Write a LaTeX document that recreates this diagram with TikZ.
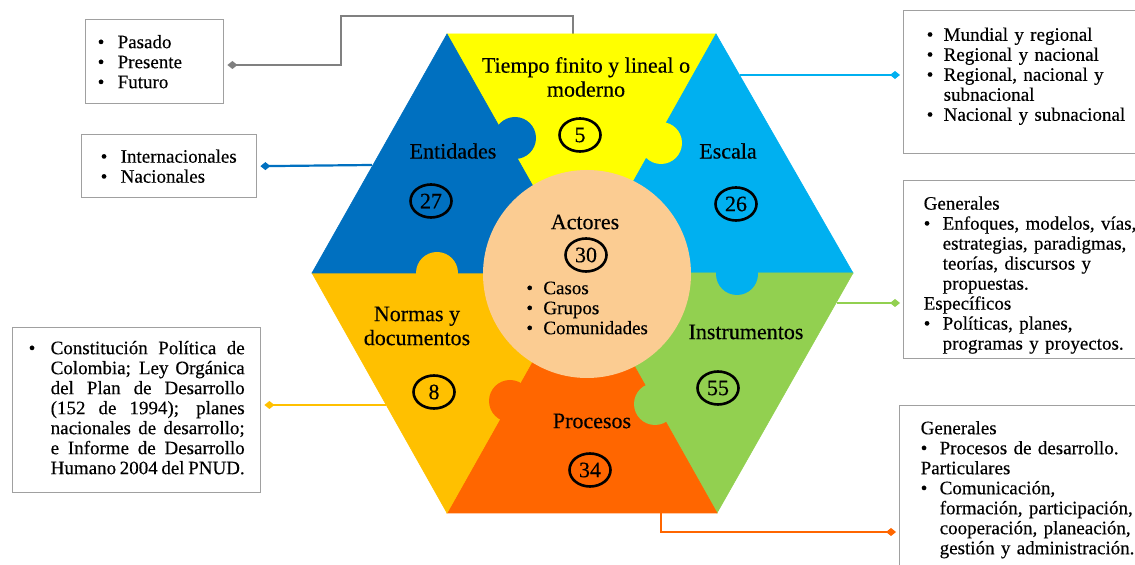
\documentclass[tikz,border=0pt]{standalone}
\usepackage{fontspec}
\setmainfont{Liberation Serif}[FakeBold=0.3]
\usetikzlibrary{shapes.geometric,arrows.meta}

\definecolor{tyellow}{RGB}{255,255,0}
\definecolor{dblue}{RGB}{0,112,192}
\definecolor{lblue}{RGB}{0,176,240}
\definecolor{lgreen}{RGB}{146,208,80}
\definecolor{dorange}{RGB}{255,102,0}
\definecolor{gold}{RGB}{255,192,0}
\definecolor{peach}{RGB}{251,204,146}
\definecolor{linkgray}{RGB}{128,128,128}
\definecolor{boxgray}{RGB}{160,160,160}

\newcommand{\bitem}[1][10pt]{\makebox[#1][l]{\textbullet}}

\tikzset{
  lbl/.style={font=\fontsize{11}{12}\selectfont, align=center, inner sep=0pt},
  numcirc/.style={ellipse, draw, line width=1.3pt, minimum width=20.5pt, minimum height=16.5pt,
    inner sep=0pt, font=\fontsize{11}{12}\selectfont},
  infobox/.style={draw=boxgray, line width=0.7pt, fill=white, anchor=north west, align=left,
    inner ysep=0pt, font=\fontsize{9.5}{10}\selectfont},
  link/.style={line width=1.1pt, -{Diamond[length=5pt,width=4pt]}, shorten >=1.5pt},
}

\begin{document}
\begin{tikzpicture}[x=0.5pt,y=-0.5pt]
  \useasboundingbox (0,0) rectangle (1135,565);

  % boxes
  \node[infobox, inner xsep=6pt, text width=57pt, minimum height=42pt] (pasadoBox) at (85,19)
    {\bitem Pasado\\ \bitem Presente\\ \bitem Futuro};
  \node[infobox, inner xsep=9.5pt, text width=68.5pt, minimum height=31.5pt] (intlBox) at (81,134)
    {\bitem Internacionales\\ \bitem Nacionales};
  \node[infobox, align=center, inner xsep=8pt, minimum width=124pt, minimum height=82.5pt] (constBox) at (12,327)
    {\begin{tabular}{@{}p{11pt}@{}p{97pt}@{}}
     \textbullet & Constitución Política de\linebreak Colombia; Ley Orgánica\linebreak
     del Plan de Desarrollo\linebreak (152 de 1994); planes\linebreak nacionales de desarrollo;\linebreak
     e Informe de Desarrollo\linebreak Humano 2004 del PNUD.
     \end{tabular}};
  \node[infobox, inner xsep=11.5pt, text width=110pt, minimum height=71.5pt] (mundialBox) at (903,10)
    {\bitem[8.5pt]Mundial y regional\\ \bitem[8.5pt]Regional y nacional\\
     \bitem[8.5pt]Regional, nacional y\\ \hspace*{8.5pt}subnacional\\
     \bitem[8.5pt]Nacional y subnacional\\[-2pt]\mbox{}};
  \node[infobox, inner xsep=10pt, text width=110pt, minimum height=89pt] (instrBox) at (903,180)
    {\mbox{}\\[2pt]Generales\\ \bitem[9.5pt]Enfoques, modelos, vías,\\ \hspace*{9.5pt}estrategias, paradigmas,\\
     \hspace*{9.5pt}teorías, discursos y\\ \hspace*{9.5pt}propuestas.\\ Específicos\\
     \bitem[9.5pt]Políticas, planes,\\ \hspace*{9.5pt}programas y proyectos.};
  \node[infobox, inner xsep=10.5pt, text width=110pt, minimum height=84pt] (procBox) at (899,405)
    {Generales\\ \bitem[9.5pt]Procesos de desarrollo.\\ Particulares\\ \bitem[9.5pt]Comunicación,\\
     \hspace*{9.5pt}formación, participación,\\ \hspace*{9.5pt}cooperación, planeación,\\
     \hspace*{9.5pt}gestión y administración.};

  % connectors
  \coordinate (tiempoTop) at (573,34);
  \coordinate (grayTop) at (341,16);
  \coordinate (grayBend) at (341,65);
  \coordinate (entEdge) at (372,165);
  \coordinate (normEdge) at (386,405);
  \coordinate (escEdge) at (740,75);
  \coordinate (insEdge) at (837,303);
  \coordinate (procBottom) at (661,513);
  \coordinate (procBend) at (661,532);
  \draw[link, linkgray, line width=1.4pt] (tiempoTop) |- (grayTop) -- (grayBend) -- (grayBend -| pasadoBox.east);
  \draw[link, dblue] (entEdge) -- (intlBox.east);
  \draw[link, gold] (normEdge) -- (normEdge -| constBox.east);
  \draw[link, lblue] (escEdge) -- (escEdge -| mundialBox.west);
  \draw[link, lgreen] (insEdge) -- (insEdge -| instrBox.west);
  \draw[link, dorange] (procBottom) -- (procBend) -- (procBend -| procBox.west);

  % hexagon pieces
  \coordinate (hexC) at (582,273);
  \coordinate (TL) at (447,34);
  \coordinate (TR) at (716,34);
  \coordinate (R) at (853,273);
  \coordinate (BR) at (717,513);
  \coordinate (BL) at (447,513);
  \coordinate (L) at (312,273);
  \foreach \p/\q/\c in {TL/TR/tyellow, TR/R/lblue, R/BR/lgreen, BR/BL/dorange, BL/L/gold, L/TL/dblue}
    \filldraw[\c, line width=0.3pt] (hexC) -- (\p) -- (\q) -- cycle;
  \foreach \x/\y/\c in {515/138/dblue, 661/143/tyellow, 737/274/lblue, 437/273/gold, 510/401/dorange, 655/404/lgreen}
    \fill[\c] (\x,\y) circle (10.5pt);
  \fill[peach] (587,274) circle (52pt);

  % labels
  \node[lbl] (tiempoLbl) at (586,77) {Tiempo finito y lineal o\\moderno};
  \node[lbl] (entLbl) at (453,151) {Entidades};
  \node[lbl] (escLbl) at (728,151) {Escala};
  \node[lbl] (actLbl) at (585,222) {Actores};
  \node[lbl] (normLbl) at (417,326) {Normas y\\documentos};
  \node[lbl] (insLbl) at (746,332) {Instrumentos};
  \node[lbl] (procLbl) at (592,421) {Procesos};
  \node[anchor=west, align=left, inner sep=0pt, font=\fontsize{9.5}{10}\selectfont] (actList) at (526,308)
    {\bitem[8.5pt]Casos\\ \bitem[8.5pt]Grupos\\ \bitem[8.5pt]Comunidades};
  \foreach \n/\x/\y in {5/580/135, 27/431/201, 26/736/204, 30/586/255, 8/434/392, 55/718/388, 34/590/470}
    \node[numcirc] (num\n) at (\x,\y) {\n};
\end{tikzpicture}
\end{document}
